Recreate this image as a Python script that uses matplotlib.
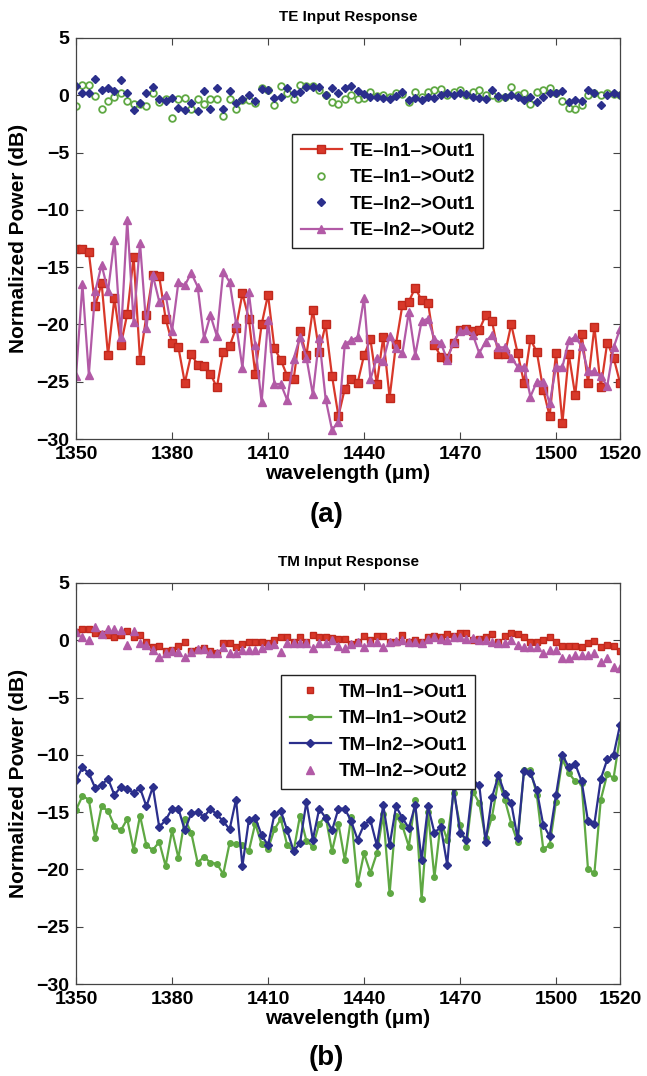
import numpy as np
import matplotlib
matplotlib.use('Agg')
import matplotlib.pyplot as plt

plt.rcParams['font.family'] = ['Liberation Sans', 'DejaVu Sans']
plt.rcParams['font.weight'] = 'bold'

# wavelength grid (2 nm steps)
wl = list(range(1350, 1521, 2))

# ---- TE input ----
te_in1_out1 = [-13.4, -13.4, -13.7, -18.4, -16.4, -22.7, -17.7, -21.8, -19.1, -14.1,
               -23.1, -19.2, -15.7, -15.8, -19.5, -21.6, -22.0, -25.1, -22.6, -23.5,
               -23.6, -24.3, -25.5, -22.4, -21.9, -20.3, -17.3, -19.5, -24.3, -20.0,
               -17.4, -22.1, -23.1, -24.5, -24.8, -20.6, -22.7, -18.7, -22.4, -20.0,
               -24.5, -28.0, -25.6, -24.8, -25.1, -22.7, -21.3, -25.2, -21.1, -26.4,
               -21.7, -18.3, -18.0, -16.8, -17.9, -18.1, -21.8, -22.8, -22.9, -21.6,
               -20.5, -20.4, -20.6, -20.5, -19.2, -19.7, -22.6, -22.6, -20.0, -22.5,
               -25.1, -21.3, -22.4, -25.7, -28.0, -22.5, -28.6, -22.6, -26.2, -20.8,
               -25.1, -20.2, -25.5, -21.6, -22.9, -25.1]
te_in1_out2 = [-0.9, 0.9, 0.9, -0.06, -1.19, -0.46, -0.11, 0.23, -0.46, -0.75,
               -0.75, -0.9, 0.18, -0.55, -0.32, -2.0, -0.35, -0.26, -1.22, -0.32,
               -0.75, -0.35, -0.35, -1.8, -0.35, -1.16, -0.4, -0.4, -0.64, 0.61,
               0.47, -0.84, 0.82, 0.18, -0.35, 0.9, 0.82, 0.82, 0.47, 0.03,
               -0.55, -0.75, -0.35, 0.03, -0.35, -0.26, 0.32, -0.06, 0.03, -0.11,
               0.18, 0.12, -0.55, 0.32, -0.11, 0.32, 0.47, 0.53, 0.03, 0.32,
               0.47, 0.03, 0.32, 0.47, 0.03, 0.03, -0.26, -0.11, 0.70, 0.03,
               0.18, -0.75, 0.32, 0.47, 0.61, 0.18, -0.46, -1.13, -1.22, -0.84,
               0.03, 0.18, 0.03, 0.18, 0.12, 0.03]
te_in2_out1 = [0.8, 0.2, 0.2, 1.4, 0.47, 0.67, 0.41, 1.34, 0.18, -1.28,
               -0.64, 0.18, 0.76, -0.35, -0.46, -0.26, -1.07, -1.28, -0.64, -1.33,
               0.41, -1.22, 0.67, -1.19, 0.41, -0.64, -0.32, 0.03, -0.46, 0.53,
               0.47, -0.2, -0.11, 0.67, 0.18, 0.32, 0.76, 0.76, 0.76, 0.03,
               0.67, 0.18, 0.61, 0.82, 0.38, 0.09, -0.11, -0.11, -0.26, -0.35,
               -0.03, 0.32, -0.40, -0.26, -0.40, -0.11, -0.26, 0.03, 0.18, 0.03,
               0.18, 0.12, -0.11, -0.26, -0.35, 0.47, -0.06, -0.11, 0.03, -0.17,
               -0.40, -0.11, -0.55, -0.11, 0.18, 0.23, 0.41, -0.55, -0.40, -0.46,
               0.47, 0.23, -0.84, 0.03, 0.23, 0.03]
te_in2_out2 = [-24.5, -16.5, -24.4, -17.1, -14.8, -17.1, -12.6, -21.1, -10.9, -19.8,
               -12.9, -20.3, -15.7, -18.0, -17.4, -20.6, -16.3, -16.6, -15.5, -16.7,
               -21.2, -19.2, -21.0, -15.4, -16.3, -19.9, -23.8, -17.2, -21.8, -26.8,
               -19.6, -25.2, -25.2, -26.6, -23.0, -21.1, -22.9, -26.1, -21.2, -26.5,
               -29.2, -28.5, -21.7, -21.4, -21.1, -17.7, -24.8, -22.9, -23.2, -21.0,
               -22.1, -22.5, -18.9, -22.7, -19.7, -19.5, -21.3, -21.6, -23.1, -21.5,
               -20.6, -20.5, -20.9, -22.5, -21.5, -20.9, -22.0, -22.0, -22.9, -23.7,
               -23.7, -26.3, -25.0, -25.0, -26.9, -23.7, -23.7, -21.4, -21.1, -21.9,
               -24.1, -24.1, -24.5, -25.4, -22.0, -20.4]

# ---- TM input ----
tm_in1_out1 = [0.7, 1.0, 1.0, 0.66, 0.55, 0.46, 0.26, 0.46, 0.84, 0.26,
               0.46, -0.12, -0.62, -0.5, -0.91, -0.85, -0.5, -0.12, -0.91, -0.85,
               -0.70, -0.91, -1.08, -0.21, -0.21, -0.62, -0.33, -0.12, -0.12, -0.12,
               -0.27, 0.02, 0.26, 0.26, -0.12, 0.26, -0.12, 0.46, 0.32, 0.32,
               0.17, 0.08, 0.08, -0.33, -0.12, 0.37, 0.02, 0.37, 0.37, -0.12,
               -0.12, 0.46, -0.12, 0.02, -0.12, 0.26, 0.37, 0.26, 0.55, 0.37,
               0.66, 0.6, 0.02, 0.08, 0.26, 0.55, -0.12, 0.37, 0.6, 0.55,
               0.26, -0.12, -0.12, 0.02, 0.26, -0.12, -0.5, -0.5, -0.5, -0.56,
               -0.21, -0.03, -0.62, -0.41, -0.5, -0.91]
tm_in1_out2 = [-14.8, -13.6, -13.9, -17.3, -14.5, -14.9, -16.2, -16.6, -15.6, -18.3,
               -15.3, -17.9, -18.3, -17.6, -19.7, -16.6, -19.0, -15.6, -16.8, -19.4,
               -18.9, -19.4, -19.5, -20.4, -17.7, -17.8, -17.9, -18.4, -16.0, -17.8,
               -18.2, -16.5, -15.6, -17.9, -18.4, -15.3, -17.5, -18.0, -16.0, -15.4,
               -18.4, -16.0, -19.2, -15.4, -21.3, -18.6, -20.3, -18.6, -15.2, -22.1,
               -15.3, -16.2, -18.0, -13.9, -22.6, -15.0, -20.7, -15.8, -17.4, -13.3,
               -16.1, -18.0, -13.2, -14.2, -17.3, -15.4, -12.2, -13.9, -16.0, -17.6,
               -11.3, -11.3, -13.5, -18.2, -17.9, -14.1, -10.4, -11.6, -12.3, -12.5,
               -20.0, -20.3, -13.9, -11.7, -12.0, -8.4]
tm_in2_out1 = [-12.2, -11.1, -11.6, -12.9, -12.6, -12.1, -13.5, -12.8, -13.0, -13.3,
               -12.9, -14.5, -12.8, -16.3, -15.7, -14.7, -14.7, -16.6, -15.1, -15.0,
               -15.4, -14.7, -15.2, -15.8, -16.5, -13.9, -19.7, -15.7, -15.5, -17.0,
               -17.9, -15.2, -14.9, -16.6, -18.4, -17.7, -14.1, -17.4, -14.7, -15.5,
               -16.6, -14.7, -14.7, -15.8, -17.4, -16.1, -15.7, -17.9, -14.4, -17.9,
               -14.5, -15.5, -16.4, -14.4, -19.2, -14.5, -16.8, -16.3, -19.6, -12.8,
               -16.8, -17.4, -12.5, -12.6, -17.6, -13.7, -11.8, -13.4, -14.2, -17.3,
               -11.4, -11.6, -13.1, -16.1, -17.1, -13.5, -10.0, -11.1, -10.8, -12.3,
               -15.8, -16.0, -12.1, -10.4, -10.0, -7.4]
tm_in2_out2 = [0.7, 0.3, 0.02, 1.19, 0.55, 0.95, 0.95, 0.9, -0.41, 0.84,
               -0.27, -0.41, -0.85, -1.49, -1.08, -0.91, -0.99, -1.49, -0.99, -0.79,
               -0.79, -1.14, -1.14, -0.56, -1.14, -1.14, -0.85, -0.85, -0.85, -0.70,
               -0.41, -0.33, -0.99, -0.27, -0.27, -0.27, -0.27, -0.70, -0.27, -0.27,
               0.02, -0.5, -0.70, -0.33, -0.12, -0.62, -0.12, -0.12, -0.62, -0.12,
               -0.03, 0.02, -0.12, -0.12, -0.21, 0.08, 0.26, 0.08, 0.02, 0.32,
               0.26, 0.08, 0.17, 0.02, 0.02, -0.12, -0.27, -0.21, 0.02, -0.41,
               -0.62, -0.62, -0.62, -1.08, -0.85, -0.85, -1.58, -1.58, -1.29, -1.29,
               -1.29, -1.14, -1.87, -1.58, -2.3, -2.45]

xticks = [1350, 1380, 1410, 1440, 1470, 1500, 1520]
yticks = [-30, -25, -20, -15, -10, -5, 0, 5]

red = '#d8382a'
green = '#5fa843'
navy = '#2b2f8c'
purple = '#b25aa6'

fig = plt.figure(figsize=(6.47, 10.76), dpi=100)
ax1 = fig.add_axes([0.1175, 0.592, 0.8408, 0.3727])
ax2 = fig.add_axes([0.1175, 0.0855, 0.8408, 0.3727])

leg_kw = dict(loc='upper left', fontsize=13.5, frameon=True, fancybox=False,
              edgecolor='#222222', framealpha=1, handlelength=2.2,
              borderpad=0.45, labelspacing=0.5, handletextpad=0.4)

# panel (a)
ax1.plot(wl, te_in1_out1, '-s', color=red, lw=1.6, ms=5.5, mfc=red, mec='#c0281c',
         label='TE\u2013In1\u2013>Out1')
ax1.plot(wl, te_in1_out2, 'o', color=green, ms=4.8, mfc='none', mew=1.3,
         label='TE\u2013In1\u2013>Out2')
ax1.plot(wl, te_in2_out1, 'D', color=navy, ms=4.5, label='TE\u2013In2\u2013>Out1')
ax1.plot(wl, te_in2_out2, '-^', color=purple, lw=1.6, ms=5.5,
         label='TE\u2013In2\u2013>Out2')
ax1.set_title('TE Input Response', fontsize=11, fontweight='bold', pad=12)
ax1.legend(bbox_to_anchor=(0.38, 0.783), **leg_kw)

# panel (b)
ax2.plot(wl, tm_in1_out1, 's', color=red, ms=4.5, mec='#c0281c',
         label='TM\u2013In1\u2013>Out1')
ax2.plot(wl, tm_in1_out2, '-o', color=green, lw=1.6, ms=4,
         label='TM\u2013In1\u2013>Out2')
ax2.plot(wl, tm_in2_out1, '-D', color=navy, lw=1.6, ms=4,
         label='TM\u2013In2\u2013>Out1')
ax2.plot(wl, tm_in2_out2, '^', color=purple, ms=5.5, label='TM\u2013In2\u2013>Out2')
ax2.set_title('TM Input Response', fontsize=11, fontweight='bold', pad=12)
ax2.legend(bbox_to_anchor=(0.36, 0.793), **leg_kw)

for ax in (ax1, ax2):
    ax.set_xlim(1350, 1520)
    ax.set_ylim(-30, 5)
    ax.set_xticks(xticks)
    ax.set_yticks(yticks)
    ax.tick_params(direction='in', top=True, right=True, length=5, width=0.8,
                   labelsize=14, pad=5, color='#444444')
    for lab in ax.get_xticklabels() + ax.get_yticklabels():
        lab.set_fontweight('bold')
    for sp in ax.spines.values():
        sp.set_color('#444444')
        sp.set_linewidth(0.9)
    ax.set_xlabel('wavelength (\u03bcm)', fontsize=15, fontweight='bold', labelpad=1)
    ax.set_ylabel('Normalized Power (dB)', fontsize=15, fontweight='bold', labelpad=6)

fig.text(0.505, 0.521, '(a)', ha='center', va='center', fontsize=20, fontweight='bold')
fig.text(0.505, 0.017, '(b)', ha='center', va='center', fontsize=20, fontweight='bold')

fig.savefig('out.png', dpi=100)
